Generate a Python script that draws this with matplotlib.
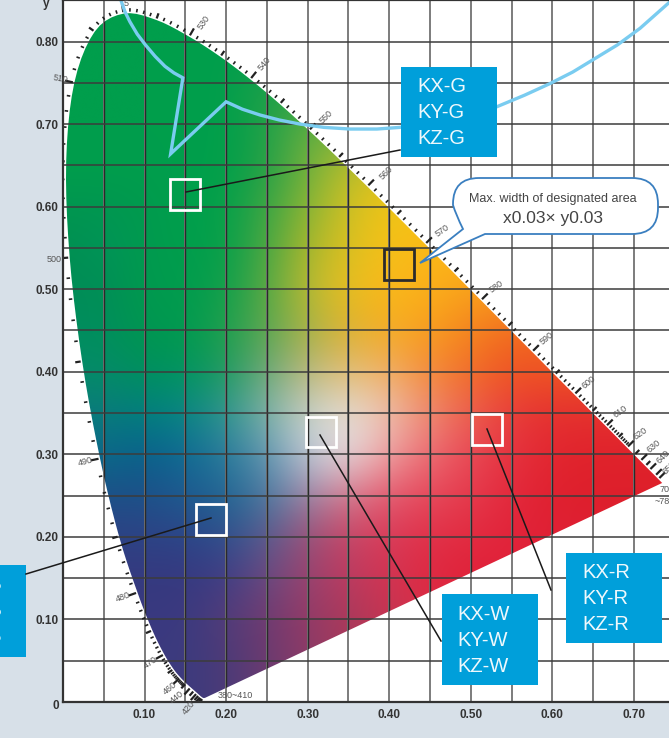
import numpy as np
import matplotlib
matplotlib.use("Agg")
import matplotlib.pyplot as plt
from matplotlib.colors import to_rgb
from matplotlib.patches import Rectangle, PathPatch
from matplotlib.path import Path

plt.rcParams['font.family'] = ['Liberation Sans', 'DejaVu Sans']

# spectrum locus (CIE 1931)
wl = [380, 410, 420, 430, 440, 450, 455, 460, 465, 470, 475, 480, 485, 490, 495, 500, 505, 510, 515, 520,
      525, 530, 535, 540, 545, 550, 555, 560, 565, 570, 575, 580, 585, 590, 595, 600, 605, 610, 615, 620,
      625, 630, 635, 640, 650, 660, 700]
loc_x = [.1741, .1726, .1714, .1689, .1644, .1566, .1510, .1440, .1355, .1241, .1096, .0913, .0687, .0454,
         .0235, .0082, .0039, .0139, .0389, .0743, .1142, .1547, .1929, .2296, .2658, .3016, .3373, .3731,
         .4087, .4441, .4788, .5125, .5448, .5752, .6029, .6270, .6482, .6658, .6801, .6915, .7006, .7079,
         .7140, .7190, .7260, .7300, .7347]
loc_y = [.0050, .0048, .0051, .0069, .0109, .0177, .0227, .0297, .0399, .0578, .0868, .1327, .2007, .2950,
         .4127, .5384, .6548, .7502, .8120, .8338, .8262, .8059, .7816, .7543, .7243, .6923, .6589, .6245,
         .5896, .5547, .5202, .4866, .4544, .4242, .3965, .3725, .3514, .3340, .3197, .3083, .2993, .2920,
         .2859, .2809, .2740, .2700, .2653]

# colours, rows y = 0 .. 0.85, columns x = 0 .. 0.75 (step 0.05)
G = '#009e4c'
row00 = ['#3c3a7e'] * 4 + ['#4a3a78', '#6a3a70', '#8b3a68', '#a53a5a', '#c43452', '#d23050', '#dc2a48', '#e02038', '#e02038', '#e02038', '#e02038', '#e02038']
row05 = ['#3c3a7e'] * 4 + ['#4a3a78', '#6a3a70', '#8b3a68', '#a53a5a', '#c43452', '#d23050', '#dc2a48', '#e02038', '#e02038', '#e02038', '#e02038', '#e02038']
row10 = ['#3a3a80'] * 4 + ['#543d78', '#703a70', '#933a66', '#a83a5a', '#c43452', '#d83048', '#e02840', '#e02038', '#e02038', '#e02038', '#e02038', '#e02038']
row15 = ['#35397f'] * 3 + ['#37387f', '#403c85', '#6a4a80', '#99426f', '#bd3a60', '#d23452', '#e02840', '#e02038', '#e0203a', '#e0203a', '#e0203a', '#e0203a', '#e0203a']
row20 = ['#2e4285'] * 3 + ['#2c4488', '#2f4f8c', '#5a5b90', '#995078', '#c64465', '#da3a58', '#e03048', '#e22b40', '#e2233a', '#df2034', '#df2034', '#df2034', '#df2034']
row25 = ['#1d5088'] * 2 + ['#1d5088', '#1f5a90', '#1f6692', '#4a7aa0', '#9a86a8', '#d77a8e', '#e4586e', '#e6485a', '#e53a4c', '#e3283c', '#e0202f', '#dd1f2b', '#dd1f2a', '#dd1f2a']
row30 = ['#0a6a8a'] * 2 + ['#0a5f8c', '#0e6a94', '#2a7a9c', '#5f94b0', '#c0cad8', '#e8dee0', '#eea0a0', '#ec6a72', '#e94856', '#e5323f', '#e2262f', '#e0222b', '#e0222b', '#e0222b']
row35 = ['#0b7a7c'] * 2 + ['#007f80', '#0a8585', '#309690', '#7fb2a8', '#c8d0c8', '#e4e0da', '#ecc0b0', '#ee8a72', '#ec5f50', '#e83c3c', '#e43030', '#e43030', '#e43030', '#e43030']
row40 = ['#058c68'] * 2 + ['#00905c', '#009560', '#1f9a60', '#6fa87a', '#bdb87e', '#e4bf78', '#f2ae66', '#f4893a', '#f16c28', '#ef5423', '#ef5423', '#ef5423', '#ef5423', '#ef5423']
row45 = ['#008e5e'] * 2 + ['#00964f', '#009a50', '#1f9f4c', '#5ca652', '#a5b248', '#dcb132', '#f5ac24', '#f89d1e', '#f5841f', '#f16a20', '#f16a20', '#f16a20', '#f16a20', '#f16a20']
row50 = ['#008d56'] * 2 + ['#009a4e', '#009c4e', '#0fa04c', '#58a844', '#b9bb34', '#eabf20', '#fbb81a', '#fbb01a', '#f9a01c', '#f9a01c', '#f9a01c', '#f9a01c', '#f9a01c', '#f9a01c']
row55 = ['#008f50', '#00945a', '#009a4e', G, '#06a04a', '#4aa644', '#a9b62c', '#dcc020', '#f6c018', '#fbb718', '#fbb718', '#fbb718', '#fbb718', '#fbb718', '#fbb718', '#fbb718']
row60 = ['#009650'] * 2 + ['#009a4e', '#00a04c', '#04a04a', '#3aa544', '#8ab536', '#d0c124', '#f3c514', '#f3c514', '#f3c514', '#f3c514', '#f3c514', '#f3c514', '#f3c514', '#f3c514']
row65 = [G] * 4 + ['#00a04a', '#259f47', '#6fb03e', '#b8bd2c', '#d8c020', '#d8c020', '#d8c020', '#d8c020', '#d8c020', '#d8c020', '#d8c020', '#d8c020']
row70 = [G] * 4 + ['#00a04b', '#1fa048', '#5fae42', '#6fb03e', '#6fb03e', '#6fb03e', '#6fb03e', '#6fb03e', '#6fb03e', '#6fb03e', '#6fb03e', '#6fb03e']
row75 = [G] * 5 + ['#1fa04a'] * 11
row80 = [G] * 16
row85 = [G] * 16
col_rows = [row00, row05, row10, row15, row20, row25, row30, row35, row40, row45, row50, row55, row60, row65,
            row70, row75, row80, row85]

# designated areas, centre
box_x = [.150, .412, .520, .316, .181]
box_y = [.615, .530, .330, .327, .221]
box_col = ['white', '#2b2b2b', 'white', 'white', 'white']

y_ticks = [.10, .20, .30, .40, .50, .60, .70, .80]
x_ticks = [.10, .20, .30, .40, .50, .60, .70]

# light blue boundary curve
cur_x = [.071, .076, .082, .091, .101, .113, .125, .136, .147, .132, .200, .220, .2416, .265, .2906, .320,
         .352, .385, .413, .470, .532, .566, .597, .625, .650, .680, .7076, .743]
cur_y = [.850, .836, .824, .809, .796, .782, .770, .762, .756, .664, .727, .718, .711, .705, .700, .696,
         .694, .694, .696, .705, .721, .735, .749, .763, .778, .796, .816, .847]

# wavelength labels: text, pixel x, pixel y, rotation
wl_txt = ['5', '530', '540', '550', '560', '570', '580', '590', '600', '610', '620', '630', '640', '650', '70',
          '~78', '510', '500', '490', '480', '470', '460', '440', '420', '380~410']
wl_px = [126, 204, 265, 326, 386, 442, 496, 547, 589, 620, 640, 654, 663, 669, 665, 662, 60, 54, 85, 123,
         151, 170, 177, 189, 235]
wl_py = [3, 22, 64, 117, 173, 231, 287, 338, 382, 412, 434, 446, 457, 468, 489, 502, 79, 260, 462, 597,
         663, 688, 697, 708, 696]
wl_rot = [0, 55, 50, 45, 45, 35, 35, 40, 40, 35, 35, 40, 45, 45, 0, 0, -10, 0, 15, 20, 35, 40, 40, 50, 0]


def locus_at(n, pts):
    # cubic hermite through the table, so the outline stays round
    i = int(np.clip(np.searchsorted(wl, n, side='right') - 1, 0, len(wl) - 2))
    h = wl[i + 1] - wl[i]
    t = (n - wl[i]) / h
    a = max(i - 1, 0)
    b = min(i + 2, len(wl) - 1)
    m0 = (pts[i + 1] - pts[a]) / (wl[i + 1] - wl[a])
    m1 = (pts[b] - pts[i]) / (wl[b] - wl[i])
    return ((2 * t ** 3 - 3 * t ** 2 + 1) * pts[i] + (t ** 3 - 2 * t ** 2 + t) * h * m0
            + (-2 * t ** 3 + 3 * t ** 2) * pts[i + 1] + (t ** 3 - t ** 2) * h * m1)


fig = plt.figure(figsize=(6.69, 7.38), dpi=100, facecolor='#d7e0e8')
W, H = 669., 738.
ax_l, ax_b = 63., 702.
sx, sy = 815.5, 825.6
ax = fig.add_axes([ax_l / W, (H - ax_b) / H, (W - ax_l) / W, ax_b / H])
ax.set_facecolor('white')

pts = np.column_stack([np.array(loc_x) * sx, np.array(loc_y) * sy])
fine = np.arange(440, 700.5, 1.0)
outline = np.array([locus_at(n, pts) for n in fine]) / [sx, sy]
outline = np.vstack([np.column_stack([loc_x[:4], loc_y[:4]]), outline])
clip = PathPatch(Path(np.vstack([outline, outline[:1]]), closed=True), transform=ax.transData, fc='none', ec='none')
ax.add_patch(clip)

img = np.array([[to_rgb(c) for c in r] for r in col_rows])
im = ax.imshow(img, origin='lower', extent=(-.025, .775, -.025, .875), aspect='auto', zorder=1,
               interpolation='bicubic')
im.set_clip_path(clip)
ax.set_xlim(0, (W - ax_l) / sx)
ax.set_ylim(0, ax_b / sy)

# grid
for v in np.arange(.05, .75, .05):
    ax.axvline(v, color='#7c7c7c', lw=1.4, zorder=2)
    ln = ax.axvline(v, color='#2a2a2a', lw=1.0, zorder=3)
    ln.set_clip_path(clip)
for v in np.arange(.05, .85, .05):
    ax.axhline(v, color='#3c3c3c', lw=1.1, zorder=3)

# ticks on the locus
for n in range(420, 661):
    if (n < 455 or n > 620) and n % 5:
        continue
    if n > 640 and n % 10:
        continue
    px, py = locus_at(n, pts)
    dx, dy = locus_at(n + .5, pts) - locus_at(n - .5, pts)
    d = np.hypot(dx, dy)
    nx, ny = dy / d, -dx / d
    ln = 8 if n % 10 == 0 else (5.5 if n % 5 == 0 else 3.5)
    lw = 1.6 if n % 5 == 0 else 1.2
    gap = 1.5
    ax.plot([(px - nx * gap) / sx, (px - nx * (gap + ln)) / sx], [(py - ny * gap) / sy, (py - ny * (gap + ln)) / sy],
            color='#222222', lw=lw, zorder=3, solid_capstyle='butt')

ax.plot(cur_x, cur_y, color='#7accf0', lw=2.4, zorder=4, solid_joinstyle='miter')

for a, b, c in zip(box_x, box_y, box_col):
    ax.add_patch(Rectangle((a - .0185, b - .0185), .037, .037, fc='none', ec=c, lw=2.0, zorder=5))

ax.set_xticks(x_ticks, ['%.2f' % v for v in x_ticks])
ax.set_yticks(y_ticks, ['%.2f' % v for v in y_ticks])
ax.tick_params(length=0, labelsize=8.5, labelcolor='#333333', pad=3)
ax.tick_params(axis='x', pad=5)
for t in ax.get_xticklabels() + ax.get_yticklabels():
    t.set_fontweight('bold')
for s in ['top', 'left', 'bottom']:
    ax.spines[s].set_linewidth(1.6)
    ax.spines[s].set_color('#333333')
    ax.spines[s].set_zorder(6)
ax.spines['right'].set_visible(False)

# pixel overlay for callouts and small labels
ov = fig.add_axes([0, 0, 1, 1], zorder=10)
ov.set_xlim(0, W)
ov.set_ylim(H, 0)
ov.axis('off')
ov.patch.set_alpha(0)

for t, x, y, r in zip(wl_txt, wl_px, wl_py, wl_rot):
    ov.text(x, y, t, fontsize=6.5, color='#555555', rotation=r, ha='center', va='center',
            rotation_mode='anchor')
ov.text(56, 706, '0', fontsize=8.5, fontweight='bold', color='#333333', ha='center', va='center')
ov.text(46, 4, 'y', fontsize=8.5, fontweight='bold', color='#333333', ha='center', va='center')

for a, b in [((186, 192), (400, 150)), ((320, 435), (441, 641)), ((487, 429), (551, 590)), ((211, 518), (26, 574))]:
    ov.plot([a[0], b[0]], [a[1], b[1]], color='#1a1a1a', lw=1.1)

blue = '#009fda'
groups = [(401, 67, 96, 90, 'G', 417), (566, 553, 96, 90, 'R', 582), (442, 594, 96, 91, 'W', 457)]
for x0, y0, bw, bh, s, tx in groups:
    ov.add_patch(Rectangle((x0, y0), bw, bh, fc=blue, ec='none'))
    for k, a in enumerate(['KX', 'KY', 'KZ']):
        ov.text(tx, y0 + 20 + k * 26, a + '-' + s, fontsize=14.5, color='#eef8fc', va='center', ha='left')
ov.add_patch(Rectangle((-2, 565), 28, 92, fc=blue, ec='none'))
for k, a in enumerate(['KX', 'KY', 'KZ']):
    ov.text(2, 585 + k * 26, a + '-B', fontsize=14.5, color='#eef8fc', va='center', ha='right')

# speech bubble
r = 26
l, t, rr, b = 453, 178, 658, 234
verts = [(l + r, t), (rr - r, t), (rr, t), (rr, t + r), (rr, b - r), (rr, b), (rr - r, b), (485, b), (420, 263),
         (463, 229), (l + 3, 215), (l, 205), (l, t + r), (l, t), (l + r, t)]
codes = [Path.MOVETO, Path.LINETO, Path.CURVE3, Path.CURVE3, Path.LINETO, Path.CURVE3, Path.CURVE3, Path.LINETO,
         Path.LINETO, Path.LINETO, Path.CURVE3, Path.CURVE3, Path.LINETO, Path.CURVE3, Path.CURVE3]
ov.add_patch(PathPatch(Path(verts, codes), fc='white', ec='#3a7fc0', lw=1.3))
ov.text(553, 199, 'Max. width of designated area', fontsize=9, color='#444444', ha='center', va='center')
ov.text(553, 219, 'x0.03\u00d7 y0.03', fontsize=12.5, color='#444444', ha='center', va='center')

fig.savefig('out.png', dpi=100, facecolor=fig.get_facecolor())
